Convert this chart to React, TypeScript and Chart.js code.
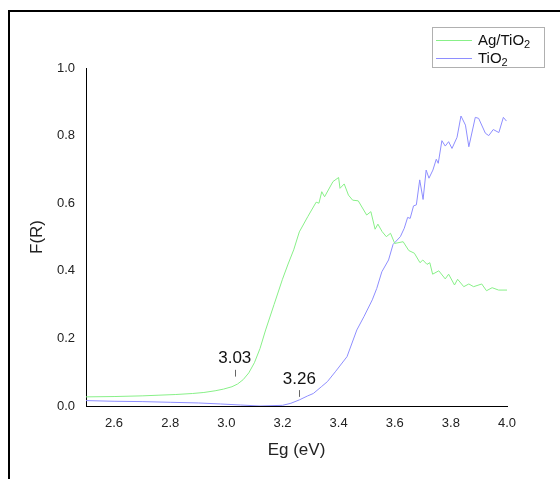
import React, { useEffect, useRef } from "react";
import { Chart, registerables } from "chart.js";
Chart.register(...registerables);

const agX = [2.5, 2.6, 2.7, 2.76, 2.82, 2.88, 2.92, 2.96, 2.99, 3.02, 3.04, 3.06, 3.08, 3.1, 3.12, 3.14, 3.17, 3.2, 3.22, 3.24, 3.26, 3.29, 3.32, 3.33, 3.34, 3.35, 3.38, 3.4, 3.405, 3.42, 3.435, 3.45, 3.47, 3.5, 3.515, 3.53, 3.54, 3.555, 3.57, 3.585, 3.6, 3.63, 3.65, 3.67, 3.69, 3.7, 3.715, 3.725, 3.735, 3.757, 3.78, 3.792, 3.813, 3.824, 3.846, 3.864, 3.881, 3.91, 3.927, 3.947, 3.97, 4.0];
const agY = [0.027, 0.028, 0.03, 0.032, 0.034, 0.037, 0.04, 0.045, 0.05, 0.057, 0.065, 0.078, 0.098, 0.128, 0.17, 0.225, 0.3, 0.375, 0.42, 0.462, 0.515, 0.56, 0.603, 0.6, 0.634, 0.619, 0.664, 0.676, 0.644, 0.657, 0.624, 0.609, 0.607, 0.565, 0.575, 0.523, 0.538, 0.516, 0.501, 0.511, 0.481, 0.486, 0.46, 0.452, 0.424, 0.432, 0.419, 0.424, 0.39, 0.4, 0.376, 0.39, 0.358, 0.375, 0.353, 0.361, 0.353, 0.361, 0.341, 0.35, 0.343, 0.343];

const tiX = [2.5, 2.6, 2.7, 2.8, 2.9, 2.98, 3.05, 3.12, 3.2, 3.23, 3.26, 3.29, 3.31, 3.34, 3.36, 3.39, 3.43, 3.465, 3.49, 3.52, 3.536, 3.554, 3.578, 3.594, 3.62, 3.634, 3.646, 3.655, 3.667, 3.677, 3.689, 3.701, 3.712, 3.722, 3.736, 3.748, 3.755, 3.768, 3.78, 3.792, 3.804, 3.822, 3.836, 3.852, 3.864, 3.887, 3.899, 3.923, 3.935, 3.951, 3.971, 3.987, 3.998];
const tiY = [0.016, 0.014, 0.013, 0.011, 0.009, 0.006, 0.003, 0.0, 0.002, 0.008, 0.018, 0.03, 0.037, 0.058, 0.072, 0.103, 0.146, 0.225, 0.264, 0.314, 0.348, 0.397, 0.432, 0.478, 0.501, 0.526, 0.558, 0.555, 0.592, 0.595, 0.669, 0.611, 0.698, 0.674, 0.698, 0.73, 0.718, 0.785, 0.769, 0.782, 0.762, 0.795, 0.858, 0.831, 0.767, 0.854, 0.851, 0.807, 0.8, 0.818, 0.809, 0.854, 0.843];

const xTicks = [2.6, 2.8, 3.0, 3.2, 3.4, 3.6, 3.8, 4.0];
const yTicks = [0, 0.2, 0.4, 0.6, 0.8, 1.0];

const legendBase = ["Ag/TiO", "TiO"];
const legendSub = ["2", "2"];
const seriesColors = ["#88f088", "#8e8eff"];

const annLabels = ["3.03", "3.26"];
const annX = [3.03, 3.26];
const annTextY = [0.14, 0.078];
const annTickTop = [0.107, 0.047];
const annTickBottom = [0.087, 0.027];

const FONT = "'Liberation Sans', Arial, sans-serif";

const overlayPlugin = {
  id: "overlay",
  afterDatasetsDraw(chart: any) {
    const ctx = chart.ctx;
    const xs = chart.scales.x;
    const ys = chart.scales.y;
    ctx.save();
    for (let i = 0; i < annLabels.length; i++) {
      const px = xs.getPixelForValue(annX[i]);
      ctx.fillStyle = "#111";
      ctx.font = `17px ${FONT}`;
      ctx.textAlign = "center";
      ctx.textBaseline = "middle";
      ctx.fillText(annLabels[i], px, ys.getPixelForValue(annTextY[i]));
      ctx.strokeStyle = "#666";
      ctx.lineWidth = 1;
      ctx.beginPath();
      const xx = Math.round(px) + 0.5;
      ctx.moveTo(xx, ys.getPixelForValue(annTickTop[i]));
      ctx.lineTo(xx, ys.getPixelForValue(annTickBottom[i]));
      ctx.stroke();
    }
    const bx = 422.5, by = 15.5, bw = 112, bh = 40;
    ctx.fillStyle = "#fff";
    ctx.fillRect(bx, by, bw, bh);
    ctx.strokeStyle = "#b0b0b0";
    ctx.lineWidth = 1;
    ctx.strokeRect(bx, by, bw, bh);
    for (let i = 0; i < legendBase.length; i++) {
      const ly = 28.5 + i * 18;
      ctx.strokeStyle = seriesColors[i];
      ctx.beginPath();
      ctx.moveTo(426, ly);
      ctx.lineTo(462, ly);
      ctx.stroke();
      ctx.fillStyle = "#111";
      ctx.textAlign = "left";
      ctx.textBaseline = "middle";
      ctx.font = `15px ${FONT}`;
      ctx.fillText(legendBase[i], 468, ly);
      const w = ctx.measureText(legendBase[i]).width;
      ctx.font = `11px ${FONT}`;
      ctx.fillText(legendSub[i], 468 + w, ly + 4);
    }
    ctx.restore();
  },
};

export default function App() {
  const ref = useRef<HTMLCanvasElement>(null);
  useEffect(() => {
    if (!ref.current) return;
    const chart = new Chart(ref.current, {
      type: "line",
      data: {
        datasets: [
          {
            label: "Ag/TiO2",
            data: agX.map((x, i) => ({ x, y: agY[i] })),
            borderColor: seriesColors[0],
            borderWidth: 1,
            pointRadius: 0,
            tension: 0,
          },
          {
            label: "TiO2",
            data: tiX.map((x, i) => ({ x, y: tiY[i] })),
            borderColor: seriesColors[1],
            borderWidth: 1,
            pointRadius: 0,
            tension: 0,
          },
        ],
      },
      options: {
        responsive: false,
        animation: false,
        devicePixelRatio: 1,
        layout: { padding: { left: 0, top: 56, right: 53, bottom: 0 } },
        plugins: { legend: { display: false }, tooltip: { enabled: false } },
        scales: {
          x: {
            type: "linear",
            min: 2.5,
            max: 4.0,
            afterBuildTicks: (s: any) => {
              s.ticks = xTicks.map((v) => ({ value: v }));
            },
            afterFit: (s: any) => {
              s.height = 73;
            },
            grid: { display: false, drawTicks: false },
            border: { display: true, color: "#000", width: 1 },
            ticks: {
              padding: 10,
              color: "#222",
              font: { family: FONT, size: 13 },
              maxRotation: 0,
              autoSkip: false,
              callback: (v: any) => Number(v).toFixed(1),
            },
            title: {
              display: true,
              text: "Eg (eV)",
              color: "#222",
              font: { family: FONT, size: 17 },
              padding: { top: 0, bottom: 18 },
            },
          },
          y: {
            type: "linear",
            min: 0,
            max: 1.0,
            afterBuildTicks: (s: any) => {
              s.ticks = yTicks.map((v) => ({ value: v }));
            },
            afterFit: (s: any) => {
              s.width = 76;
            },
            grid: { display: false, drawTicks: false },
            border: { display: true, color: "#000", width: 1 },
            ticks: {
              padding: 11,
              color: "#222",
              font: { family: FONT, size: 13 },
              autoSkip: false,
              callback: (v: any) => Number(v).toFixed(1),
            },
            title: {
              display: true,
              text: "F(R)",
              color: "#222",
              font: { family: FONT, size: 17 },
              padding: { top: 17, bottom: 0 },
            },
          },
        },
      } as any,
      plugins: [overlayPlugin],
    });
    return () => chart.destroy();
  }, []);
  return (
    <div
      style={{
        position: "fixed",
        top: 10,
        left: 8,
        right: 0,
        bottom: 0,
        borderTop: "2px solid #000",
        borderLeft: "2px solid #000",
        background: "#fff",
      }}
    >
      <canvas ref={ref} width={550} height={467} style={{ display: "block", width: 550, height: 467 }} />
    </div>
  );
}
